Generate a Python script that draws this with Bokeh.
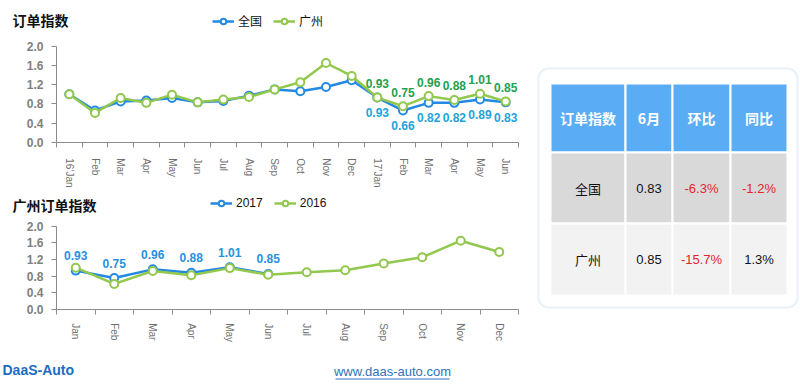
import math
from bokeh.plotting import figure
from bokeh.models import (Range1d, FixedTicker, ColumnDataSource, LabelSet, Label,
                          Legend, LegendItem, BoxAnnotation, NumeralTickFormatter)
from bokeh.layouts import row, column
from bokeh.embed import file_html
from bokeh.resources import INLINE
from bokeh.core.properties import value

# ---------------- data ----------------
top_title = "订单指数"
top_months = ["16’Jan", "Feb", "Mar", "Apr", "May", "Jun", "Jul", "Aug", "Sep",
              "Oct", "Nov", "Dec", "17’Jan", "Feb", "Mar", "Apr", "May", "Jun"]
national = [1.00, 0.66, 0.85, 0.87, 0.92, 0.83, 0.86, 0.97, 1.10,
            1.06, 1.15, 1.29, 0.93, 0.66, 0.82, 0.82, 0.89, 0.83]
guangzhou = [1.00, 0.61, 0.92, 0.82, 0.99, 0.83, 0.89, 0.94, 1.10,
             1.25, 1.65, 1.38, 0.93, 0.75, 0.96, 0.88, 1.01, 0.85]
top_names = ["全国", "广州"]
top_label_from = 12  # data labels shown from 17'Jan on

bottom_title = "广州订单指数"
bottom_months = ["Jan", "Feb", "Mar", "Apr", "May", "Jun",
                 "Jul", "Aug", "Sep", "Oct", "Nov", "Dec"]
gz_2017 = [0.93, 0.75, 0.96, 0.88, 1.01, 0.85]
gz_2016 = [1.00, 0.61, 0.92, 0.82, 0.99, 0.83, 0.89, 0.94, 1.10, 1.25, 1.65, 1.38]
bottom_names = ["2017", "2016"]

y_ticks = [0.0, 0.4, 0.8, 1.2, 1.6, 2.0]
y_max = 2.0

table_header = ["订单指数", "6月", "环比", "同比"]
table_regions = ["全国", "广州"]
table_june = ["0.83", "0.85"]
table_mom = ["-6.3%", "-15.7%"]
table_yoy = ["-1.2%", "1.3%"]

logo_text = "DaaS-Auto"
site_text = "www.daas-auto.com"

# ---------------- styles ----------------
BLUE = "#2389e3"
GREEN = "#92c84e"
LBL_BLUE_TOP = "#1ea3da"
LBL_GREEN_TOP = "#22a150"
LBL_BLUE_BOT = "#2b8fe2"
AXIS_GRAY = "#8c8c8c"
FONT = "Liberation Sans"
CJK = "Noto Sans CJK SC"
W_LEFT = 534
W_TABLE = 266
H_TOP, H_BOT, H_FOOT = 192, 156, 38


def chart(months, height, ax_left, ax_right, ax_top, ax_bottom, x_standoff):
    """Whole figure is the frame; axes are pinned at the value-area edges."""
    n = len(months)
    ux = n / (ax_right - ax_left)
    uy = y_max / (ax_bottom - ax_top)
    xr = Range1d(-0.5 - ax_left * ux, n - 0.5 + (W_LEFT - ax_right) * ux)
    yr = Range1d(-(height - ax_bottom) * uy, y_max + ax_top * uy)
    p = figure(width=W_LEFT, height=height, output_backend="svg", toolbar_location=None,
               x_range=xr, y_range=yr,
               min_border_left=0, min_border_right=0, min_border_top=0, min_border_bottom=0)
    p.outline_line_color = None
    p.grid.visible = False
    xa = p.xaxis[0]
    xa.fixed_location = 0
    xa.bounds = (-0.5, n - 0.5)
    xa.ticker = FixedTicker(ticks=list(range(n)), minor_ticks=[i - 0.5 for i in range(n + 1)])
    xa.major_label_overrides = {i: m for i, m in enumerate(months)}
    xa.major_tick_line_color = None
    xa.minor_tick_line_color = AXIS_GRAY
    xa.minor_tick_out = 5
    xa.minor_tick_in = 0
    xa.axis_line_color = AXIS_GRAY
    xa.major_label_orientation = -math.pi / 2
    xa.major_label_text_font = FONT
    xa.major_label_text_font_size = "10px"
    xa.major_label_text_color = "#6f6f6f"
    xa.major_label_standoff = x_standoff
    ya = p.yaxis[0]
    ya.fixed_location = -0.5
    ya.bounds = (0, y_max)
    ya.ticker = FixedTicker(ticks=y_ticks)
    ya.formatter = NumeralTickFormatter(format="0.0")
    ya.axis_line_color = AXIS_GRAY
    ya.major_tick_line_color = AXIS_GRAY
    ya.major_tick_out = 5
    ya.major_tick_in = 0
    ya.minor_tick_line_color = None
    ya.major_label_text_font = FONT
    ya.major_label_text_font_style = "bold"
    ya.major_label_text_font_size = "12px"
    ya.major_label_text_color = "#808080"
    ya.major_label_standoff = 8
    return p


def series(p, ys, color):
    xs = list(range(len(ys)))
    src = ColumnDataSource(dict(x=xs, y=ys, t=[f"{v:.2f}" for v in ys]))
    l = p.line("x", "y", source=src, line_color=color, line_width=2.5)
    s = p.scatter("x", "y", source=src, size=8, fill_color="white",
                  line_color=color, line_width=2)
    return l, s, src


def legend(p, names, renderers, loc, font):
    items = [LegendItem(label=nm, renderers=list(r)) for nm, r in zip(names, renderers)]
    lg = Legend(items=items, orientation="horizontal", location=loc, padding=0, margin=0,
                spacing=11, glyph_width=22, glyph_height=14, label_height=14,
                label_standoff=4, label_text_font=font, label_text_font_size="12px",
                label_text_color="#111111", border_line_color=None,
                background_fill_alpha=0)
    p.add_layout(lg)


def title(p, text, height, center_y):
    p.add_layout(Label(x=12, y=height - center_y, x_units="screen", y_units="screen",
                       text=text, text_baseline="middle", text_font=CJK,
                       text_font_style="bold", text_font_size="14px", text_color="#111111"))


# ---------------- top chart ----------------
top = chart(top_months, H_TOP, 56, 518, 45.7, 141.7, 10)
bl, bs, bsrc = series(top, national, BLUE)
gl, gs, gsrc = series(top, guangzhou, GREEN)
lab_idx = list(range(top_label_from, len(top_months)))
src_g = ColumnDataSource(dict(x=lab_idx, y=[guangzhou[i] for i in lab_idx],
                              t=[f"{guangzhou[i]:.2f}" for i in lab_idx]))
src_b = ColumnDataSource(dict(x=lab_idx, y=[national[i] for i in lab_idx],
                              t=[f"{national[i]:.2f}" for i in lab_idx]))
top.add_layout(LabelSet(x="x", y="y", text="t", source=src_g, y_offset=14,
                        text_align="center", text_baseline="middle",
                        text_font=value(FONT), text_font_style="bold",
                        text_font_size="12px", text_color=LBL_GREEN_TOP))
top.add_layout(LabelSet(x="x", y="y", text="t", source=src_b, y_offset=-15,
                        text_align="center", text_baseline="middle",
                        text_font=value(FONT), text_font_style="bold",
                        text_font_size="12px", text_color=LBL_BLUE_TOP))
legend(top, top_names, [(bl, bs), (gl, gs)], (212, H_TOP - 29), CJK)
title(top, top_title, H_TOP, 19)

# ---------------- bottom chart ----------------
bot = chart(bottom_months, H_BOT, 56, 518, 33.7, 116.7, 8)
l17, s17, src17 = series(bot, gz_2017, BLUE)
l16, s16, src16 = series(bot, gz_2016, GREEN)
bot.add_layout(LabelSet(x="x", y="y", text="t", source=src17, y_offset=15,
                        text_align="center", text_baseline="middle",
                        text_font=value(FONT), text_font_style="bold",
                        text_font_size="12px", text_color=LBL_BLUE_BOT))
legend(bot, bottom_names, [(l17, s17), (l16, s16)], (210, H_BOT - 18), FONT)
title(bot, bottom_title, H_BOT, 12)

# ---------------- footer ----------------
foot = figure(width=W_LEFT, height=H_FOOT, output_backend="svg", toolbar_location=None,
              x_range=Range1d(0, W_LEFT), y_range=Range1d(H_FOOT, 0),
              x_axis_type=None, y_axis_type=None,
              min_border_left=0, min_border_right=0, min_border_top=0, min_border_bottom=0)
foot.outline_line_color = None
foot.grid.visible = False
foot.add_layout(Label(x=2, y=21, text=logo_text, text_baseline="middle",
                      text_font=FONT, text_font_style="bold", text_font_size="14px",
                      text_color="#1d6cc3"))
foot.add_layout(Label(x=392, y=23, text=site_text, text_baseline="middle", text_align="center",
                      text_font=FONT, text_font_size="13px", text_color="#2f73ba"))
foot.segment(x0=[392 - 57], y0=[30.5], x1=[392 + 57], y1=[30.5], line_color="#2f73ba",
             line_width=1)

# ---------------- table ----------------
col_w = [75, 47, 58, 57]
row_h = [69, 71, 72]
pad_l, pad_t = 16, 83
box = dict(left=4, right=263, top=68, bottom=307)
tab = figure(width=W_TABLE, height=H_TOP + H_BOT + H_FOOT, output_backend="svg",
             toolbar_location=None,
             x_range=Range1d(0, W_TABLE), y_range=Range1d(H_TOP + H_BOT + H_FOOT, 0),
             x_axis_type=None, y_axis_type=None,
             min_border_left=0, min_border_right=0, min_border_top=0, min_border_bottom=0)
tab.outline_line_color = None
tab.grid.visible = False
x_edges = [pad_l]
for w in col_w:
    x_edges.append(x_edges[-1] + w)
y_edges = [pad_t]
for h in row_h:
    y_edges.append(y_edges[-1] + h)
row_colors = ["#5aadf5", "#d9d9d9", "#f2f2f2"]
L, R, T, B, C = [], [], [], [], []
for r in range(len(row_h)):
    for c in range(len(col_w)):
        L.append(x_edges[c]); R.append(x_edges[c + 1])
        T.append(y_edges[r]); B.append(y_edges[r + 1])
        C.append(row_colors[r])
tab.quad(left=L, right=R, top=T, bottom=B, fill_color=C, line_color="white", line_width=2)
xc = [(x_edges[i] + x_edges[i + 1]) / 2 for i in range(len(col_w))]
yc = [(y_edges[i] + y_edges[i + 1]) / 2 for i in range(len(row_h))]
tab.text(x=xc, y=[yc[0]] * 4, text=table_header, text_align="center", text_baseline="middle",
         text_font=value(CJK), text_font_style="bold", text_font_size="14px", text_color="white")
tab.text(x=[xc[0]] * 2, y=yc[1:], text=table_regions, text_align="center",
         text_baseline="middle", text_font=value(CJK), text_font_size="13px", text_color="#111111")
num_x, num_y, num_t, num_c = [], [], [], []
for r in range(len(table_regions)):
    for c, col in enumerate([table_june, table_mom, table_yoy]):
        num_x.append(xc[c + 1]); num_y.append(yc[r + 1]); num_t.append(col[r])
        num_c.append("#e3242b" if col[r].startswith("-") else "#111111")
tab.text(x=num_x, y=num_y, text=num_t, text_color=num_c, text_align="center",
         text_baseline="middle", text_font=value(FONT), text_font_size="13px")
tab.add_layout(BoxAnnotation(left=box["left"], right=box["right"], top=box["top"],
                             bottom=box["bottom"], fill_color=None, fill_alpha=0,
                             line_color="#b7d0e9", line_width=2, border_radius=10))

layout = row(column(top, bot, foot), tab)
open("out.html", "w").write(file_html(layout, INLINE))
